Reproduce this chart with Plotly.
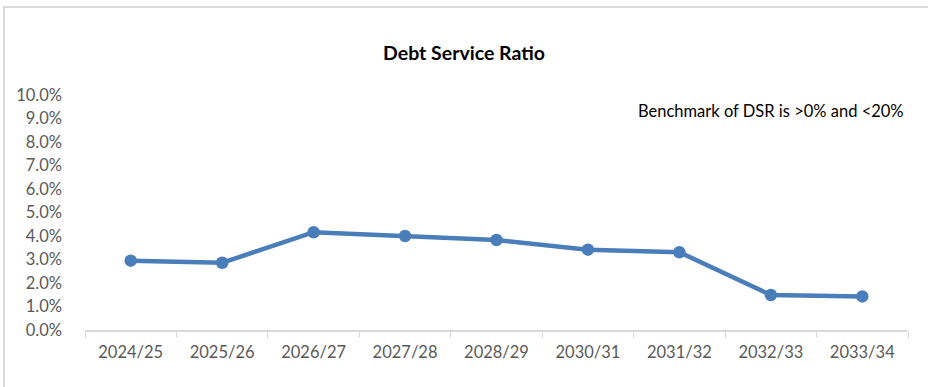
import plotly.graph_objects as go

years = ["2024/25", "2025/26", "2026/27", "2027/28", "2028/29", "2030/31", "2031/32", "2032/33", "2033/34"]
dsr = [0.0295, 0.0286, 0.0416, 0.0400, 0.0383, 0.0342, 0.0331, 0.0149, 0.0143]
y_ticks = [i / 100 for i in range(0, 11)]
title_text = "Debt Service Ratio"
note_text = "Benchmark of DSR is >0% and <20%"

FONT = "Lato, 'Open Sans', sans-serif"

fig = go.Figure()
fig.add_trace(go.Scatter(
    x=years, y=dsr, mode="lines+markers",
    line=dict(color="#4A7EBB", width=4.5),
    marker=dict(color="#4A7EBB", size=12.5),
    showlegend=False, hoverinfo="x+y",
))

fig.update_layout(
    width=928, height=387,
    margin=dict(l=85, r=20, t=95, b=57),
    paper_bgcolor="white", plot_bgcolor="white",
    font=dict(family=FONT, size=16.5, color="#595959"),
    title=dict(text="<b>" + title_text + "</b>", x=0.5, xref="container", xanchor="center",
               y=1 - 53 / 387, yref="container", yanchor="middle",
               font=dict(family=FONT, size=19.5, color="#000000")),
    xaxis=dict(
        type="category", tickson="boundaries", ticks="outside", ticklen=6,
        tickcolor="#D9D9D9", showline=True, linecolor="#D9D9D9", linewidth=1.5,
        showgrid=False, zeroline=False, tickfont=dict(size=16.5, color="#595959"),
        range=[-0.5, 8.5], ticklabelstandoff=6,
    ),
    yaxis=dict(
        range=[0, 0.10], tickvals=y_ticks, tickformat=".1%", showgrid=False,
        zeroline=False, showline=False, ticks="", tickfont=dict(size=16.5, color="#595959"),
        ticklabelstandoff=22,
    ),
    shapes=[dict(type="rect", xref="paper", yref="paper",
                 x0=(4 - 85) / 823, x1=1.2, y0=-0.5, y1=(330 - 7) / 235,
                 line=dict(color="#D9D9D9", width=2), fillcolor="rgba(0,0,0,0)", layer="below")],
    annotations=[dict(text=note_text, xref="paper", yref="paper",
                      x=(906 - 85) / 823, y=(330 - 111) / 235, xanchor="right", yanchor="middle",
                      showarrow=False, font=dict(family=FONT, size=16.5, color="#000000"))],
)

fig.write_html("out.html")
